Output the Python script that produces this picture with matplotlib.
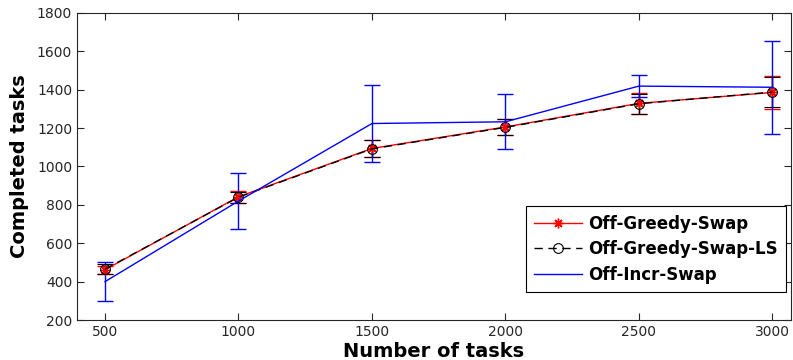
import matplotlib
matplotlib.use("Agg")
import matplotlib.pyplot as plt

tasks = [500, 1000, 1500, 2000, 2500, 3000]
greedy = [462, 842, 1094, 1206, 1329, 1386]
greedy_err = [20, 30, 45, 44, 55, 85]
greedy_ls = [465, 840, 1092, 1204, 1327, 1388]
greedy_ls_err = [25, 28, 45, 42, 53, 80]
incr = [400, 820, 1224, 1233, 1419, 1413]
incr_err = [100, 145, 203, 143, 57, 243]

labels = ["Off-Greedy-Swap", "Off-Greedy-Swap-LS", "Off-Incr-Swap"]

fig = plt.figure(figsize=(7.93, 3.6), dpi=100)
ax = fig.add_axes([77/793, 1-320/360, (791-77)/793, (320-13)/360])

c1 = ax.errorbar(tasks, greedy, yerr=greedy_err, color='red', marker=(8, 2, 0), markersize=7,
                 markeredgewidth=1.0, linestyle='-', linewidth=1.0, capsize=6, elinewidth=1.0,
                 label=labels[0])
c2 = ax.errorbar(tasks, greedy_ls, yerr=greedy_ls_err, color='black', marker='o', markersize=7,
                 markerfacecolor='none', markeredgewidth=0.8, linestyle='--', linewidth=1.0,
                 capsize=6, elinewidth=1.0, dashes=(6, 4), label=labels[1])
c3 = ax.errorbar(tasks, incr, yerr=incr_err, color='blue', linestyle='-', linewidth=1.0,
                 capsize=6, elinewidth=1.0, label=labels[2])

ax.set_xlim(395, 3070)
ax.set_ylim(200, 1800)
ax.set_xticks(tasks)
ax.set_yticks(range(200, 1801, 200))
gray = '#262626'
ax.tick_params(direction='in', top=True, right=True, labelsize=10, colors=gray, length=5)
for s in ax.spines.values():
    s.set_color(gray)
    s.set_linewidth(0.8)
ax.set_xlabel("Number of tasks", fontsize=14, fontweight='bold', labelpad=2)
ax.set_ylabel("Completed tasks", fontsize=14, fontweight='bold', labelpad=6)
leg = ax.legend([c1[0], c2[0], c3[0]], labels, loc='lower right',
                prop={'weight': 'bold', 'size': 12}, fancybox=False,
                edgecolor='black', framealpha=1, handlelength=2.9, borderpad=0.5,
                labelspacing=0.45, handletextpad=0.35, borderaxespad=0,
                bbox_to_anchor=((786 - 77) / 714, (320 - 292) / 307),
                bbox_transform=ax.transAxes)
leg.get_frame().set_linewidth(0.8)
fig.savefig("out.png", dpi=100)
